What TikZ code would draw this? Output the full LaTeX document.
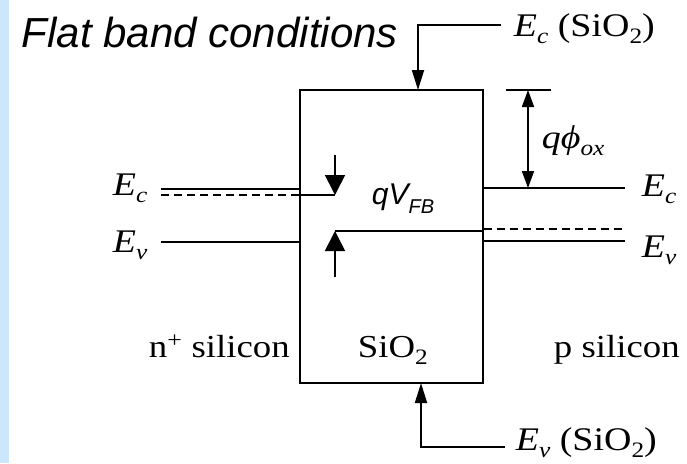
\documentclass[tikz,border=0pt]{standalone}
\usepackage{fontspec}
\usetikzlibrary{arrows.meta}
\newfontfamily\bookfont{Liberation Serif}[FakeStretch=1.15]
\newfontfamily\slidefont{Liberation Sans}
\definecolor{stripblue}{RGB}{204,231,252}
\newcommand{\lowsub}[1]{\raisebox{-0.24em}{\fontsize{22}{25}\selectfont #1}}
\newcommand{\lowsubsf}[1]{\raisebox{-0.32em}{\fontsize{20}{23}\selectfont #1}}

\begin{document}
\begin{tikzpicture}[x=1pt, y=-1pt, line width=1.8pt,
  bk/.style={font=\bookfont\fontsize{33}{38}\selectfont, inner sep=0pt},
  lvl/.style={bk, font=\bookfont\fontsize{32}{37}\selectfont},
  fermi/.style={dash pattern=on 8pt off 5pt},
  tip/.style={-{Triangle[length=20pt, width=12pt]}},
  fbtip/.style={-{Triangle[length=20pt, width=20pt]}},
  gap/.style={{Triangle[length=17pt, width=12pt]}-{Triangle[length=17pt, width=12pt]}},
]
  \useasboundingbox (0,0) rectangle (687,463);
  \fill[stripblue] (0,0) rectangle (9,463);

  \node[font=\slidefont\itshape\fontsize{42}{48}\selectfont, anchor=base west, inner sep=0pt]
    (title) at (21,47) {Flat band conditions};

  \node[draw, minimum width=183pt, minimum height=293pt, inner sep=0pt] (ox) at (391.5,236.5) {};
  \node[lvl, anchor=base west] (oxname) at (357,357) {SiO\lowsub{2}};
  \node[lvl, anchor=base west] (nsi)    at (148,357) {n\textsuperscript{+} silicon};
  \node[lvl, anchor=base west] (psi)    at (553,357) {p silicon};

  % oxide band edges
  \node[bk, anchor=base west] (ecox) at (513,36)  {\textit{E}\lowsub{\textit{c}} (SiO\lowsub{2})};
  \node[bk, anchor=base west] (evox) at (515,450) {\textit{E}\lowsub{\textit{v}} (SiO\lowsub{2})};
  \coordinate (ectop) at (418,90);
  \coordinate (evbot) at (421,383);
  \draw[tip, shorten <=12pt] (ecox.west |- 0,25) -| (ectop);
  \draw[tip, shorten <=10pt] (evox.west |- 0,447) -| (evbot);

  % n+ side
  \node[bk, anchor=base west] (ecl) at (112,195) {\textit{E}\lowsub{\textit{c}}};
  \node[bk, anchor=base west] (evl) at (112,252) {\textit{E}\lowsub{\textit{v}}};
  \draw (161,189) -- (ox.west |- 0,189);
  \draw[fermi] (161,195) -- (ox.west |- 0,195);
  \draw (161,242) -- (ox.west |- 0,242);

  % p side
  \node[bk, anchor=base west] (ecr) at (641,196) {\textit{E}\lowsub{\textit{c}}};
  \node[bk, anchor=base west] (evr) at (641,257) {\textit{E}\lowsub{\textit{v}}};
  \draw (ox.east |- 0,188) -- (625,188);
  \draw[fermi] (ox.east |- 0,229) -- (625,229);
  \draw (ox.east |- 0,241) -- (625,241);

  % barrier
  \coordinate (phitop) at (528,90);
  \coordinate (phibot) at (528,188);
  \draw (506,90) -- (551,90);
  \draw[gap] (phitop) -- (phibot);
  \node[bk, anchor=base west] (phi) at (541,148) {\textit{qϕ}\lowsub{\textit{ox}}};

  % flat band voltage
  \coordinate (fbup) at (335,195);
  \coordinate (fblo) at (335,231);
  \draw[fbtip] (335,155) -- (fbup);
  \draw (ox.west |- fbup) -- (fbup);
  \draw[fbtip] (335,277) -- (fblo);
  \draw (fblo) -- (ox.east |- fblo);
  \node[font=\slidefont\itshape\fontsize{30}{34}\selectfont, anchor=base west, inner sep=0pt]
    (vfb) at (371,204) {qV\lowsubsf{FB}};
\end{tikzpicture}
\end{document}
